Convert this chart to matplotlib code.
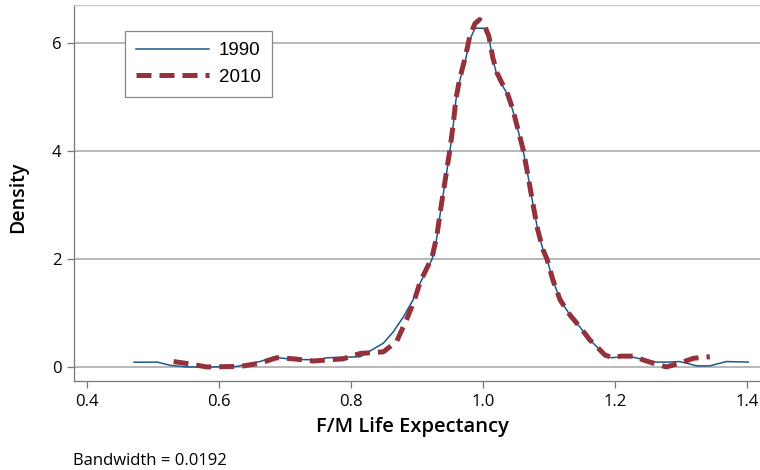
import matplotlib
matplotlib.use("Agg")
import matplotlib.pyplot as plt

# Data
x1990 = [0.471, 0.506, 0.526, 0.551, 0.59, 0.627, 0.662, 0.682, 0.713, 0.753, 0.763,
         0.814, 0.849, 0.864, 0.879, 0.894, 0.905, 0.915, 0.923, 0.930, 0.936, 0.942,
         0.950, 0.955, 0.959, 0.965, 0.973, 0.980, 0.988, 1.003, 1.009, 1.015, 1.021,
         1.029, 1.036, 1.045, 1.053, 1.061, 1.068, 1.076, 1.083, 1.091, 1.097, 1.106,
         1.117, 1.132, 1.147, 1.162, 1.173, 1.185, 1.195, 1.210, 1.228, 1.245, 1.263,
         1.280, 1.298, 1.312, 1.324, 1.344, 1.369, 1.402]
d1990 = [0.087, 0.09, 0.03, 0.0, 0.0, 0.01, 0.10, 0.18, 0.14, 0.13, 0.17,
         0.19, 0.44, 0.65, 0.92, 1.24, 1.56, 1.80, 2.0, 2.39, 2.91, 3.37,
         4.0, 4.48, 4.94, 5.31, 5.65, 6.06, 6.27, 6.27, 6.09, 5.69, 5.41,
         5.22, 5.07, 4.76, 4.39, 4.0, 3.56, 3.0, 2.54, 2.17, 2.0, 1.61,
         1.24, 0.96, 0.74, 0.5, 0.37, 0.22, 0.17, 0.19, 0.18, 0.13, 0.09,
         0.09, 0.1, 0.06, 0.02, 0.02, 0.1, 0.09]

x2010 = [0.531, 0.556, 0.581, 0.632, 0.662, 0.687, 0.713, 0.743, 0.763, 0.788, 0.814,
         0.849, 0.869, 0.884, 0.895, 0.905, 0.915, 0.923, 0.930, 0.936, 0.942, 0.950,
         0.955, 0.959, 0.965, 0.973, 0.980, 0.988, 0.995, 1.002, 1.009, 1.015, 1.021,
         1.029, 1.036, 1.045, 1.053, 1.061, 1.068, 1.076, 1.083, 1.091, 1.097, 1.106,
         1.117, 1.132, 1.147, 1.162, 1.173, 1.185, 1.195, 1.210, 1.228, 1.243, 1.258,
         1.278, 1.298, 1.319, 1.344]
d2010 = [0.10, 0.055, 0.0, 0.01, 0.07, 0.17, 0.15, 0.11, 0.13, 0.15, 0.25,
         0.28, 0.47, 0.87, 1.2, 1.58, 1.83, 2.04, 2.42, 2.93, 3.4, 4.03,
         4.5, 4.96, 5.35, 5.72, 6.12, 6.36, 6.43, 6.33, 6.12, 5.72, 5.45,
         5.25, 5.1, 4.78, 4.4, 4.02, 3.56, 3.0, 2.54, 2.17, 2.0, 1.61,
         1.24, 0.96, 0.74, 0.5, 0.37, 0.22, 0.18, 0.2, 0.2, 0.13, 0.07,
         0.0, 0.07, 0.16, 0.19]

xticks = [0.4, 0.6, 0.8, 1.0, 1.2, 1.4]
xticklabels = ["0.4", "0.6", "0.8", "1.0", "1.2", "1.4"]
yticks = [0, 2, 4, 6]
yticklabels = ["0", "2", "4", "6"]

fig = plt.figure(figsize=(7.6, 4.7), dpi=100)
ax = fig.add_axes([74/760, 1-381/470, 1-74/760, (381-5)/470])

ax.set_xlim(0.380, 1.42)
ax.set_ylim(-0.26, 6.70)

for y in yticks:
    ax.axhline(y, color="#b8b8b8", lw=1.4, zorder=1)

ax.plot(x1990, d1990, color="#1a5a8c", lw=1.1, zorder=3, label="1990")
ax.plot(x2010, d2010, color="#94323b", lw=3.6, dashes=(3.0, 1.6), zorder=4, label="2010")

ax.set_xticks(xticks)
ax.set_xticklabels(xticklabels, fontfamily="Open Sans", fontsize=12)
ax.set_yticks(yticks)
ax.set_yticklabels(yticklabels, fontfamily="Open Sans", fontsize=12)
ax.tick_params(axis="both", direction="out", length=5, width=0.9, color="#777777", pad=4)

for s in ["left", "bottom"]:
    ax.spines[s].set_color("#777777")
    ax.spines[s].set_linewidth(0.9)
ax.spines["top"].set_color("#cccccc")
ax.spines["top"].set_linewidth(1.0)
ax.spines["right"].set_visible(False)

fig.text(412.5/760, 1-432/470, "F/M Life Expectancy", fontfamily="Open Sans",
         fontweight="semibold", fontsize=14.5, ha="center", va="baseline")
fig.text(18/760, 1-197/470, "Density", fontfamily="Open Sans", fontweight="semibold",
         fontsize=14, rotation=90, ha="center", va="center")

leg = ax.legend(loc="upper left", bbox_to_anchor=((125-74)/686, 1-(31-5)/376),
                frameon=True, fancybox=False, framealpha=1, edgecolor="#888888",
                prop={"family": "Liberation Sans", "size": 13.5}, handlelength=3.9,
                borderpad=0.6, labelspacing=0.5, handletextpad=0.5, borderaxespad=0)
leg.get_frame().set_linewidth(0.9)

fig.text(73/760, 1-465/470, "Bandwidth = 0.0192", fontfamily="Open Sans", fontsize=12,
         va="baseline", ha="left")

fig.savefig("out.png", dpi=100)
